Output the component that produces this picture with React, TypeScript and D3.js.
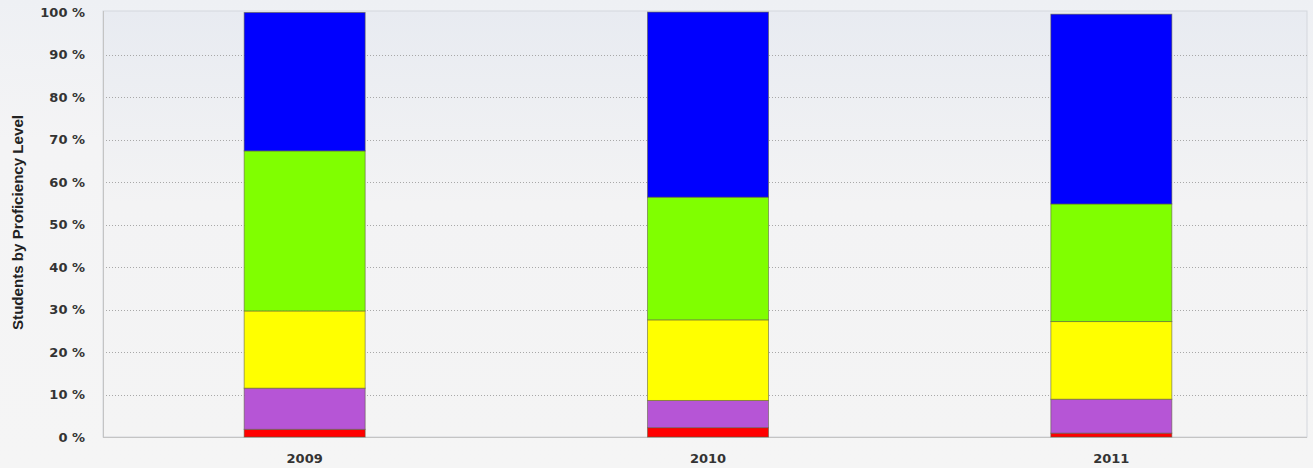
import React from "react";
import * as d3 from "d3";

const years = ["2009", "2010", "2011"];
const levels = ["red", "purple", "yellow", "green", "blue"];
const redVals = [1.8, 2.2, 0.9];
const purpleVals = [9.7, 6.4, 8.0];
const yellowVals = [18.2, 19.0, 18.3];
const greenVals = [37.7, 28.9, 27.7];
const blueVals = [32.6, 43.6, 44.7];
const yTicks = [0, 10, 20, 30, 40, 50, 60, 70, 80, 90, 100];
const colors = ["#ff0000", "#b655d6", "#ffff00", "#80ff00", "#0000ff"];

const W = 1313;
const H = 468;
const plotLeft = 103;
const plotRight = 1307;
const plotTop = 11;
const plotBottom = 437;

export default function App() {
  const rows = years.map((y, i) => ({
    year: y,
    red: redVals[i],
    purple: purpleVals[i],
    yellow: yellowVals[i],
    green: greenVals[i],
    blue: blueVals[i],
  }));
  const stack = d3.stack<any>().keys(levels)(rows);
  const x = d3
    .scaleBand()
    .domain(years)
    .range([plotLeft, W])
    .paddingInner(0.7)
    .paddingOuter(0.35);
  const y = d3.scaleLinear().domain([0, 100]).range([437, 12.5]);
  const font = "Arial, 'Liberation Sans', sans-serif";
  const tickFont = "'DejaVu Sans', Verdana, sans-serif";

  return (
    <div style={{ position: "fixed", left: 0, top: 0 }}>
      <svg width={W} height={H} style={{ display: "block" }}>
        <defs>
          <linearGradient id="bg" x1="0" y1="0" x2="0" y2="1">
            <stop offset="0" stopColor="#e8ebf1" />
            <stop offset="0.45" stopColor="#f3f3f4" />
            <stop offset="1" stopColor="#f4f4f4" />
          </linearGradient>
          <linearGradient id="outer" x1="0" y1="0" x2="0" y2="1">
            <stop offset="0" stopColor="#eef0f4" />
            <stop offset="0.3" stopColor="#f4f4f5" />
            <stop offset="1" stopColor="#f5f5f5" />
          </linearGradient>
        </defs>
        <rect x={0} y={0} width={W} height={H} fill="url(#outer)" />
        <rect
          x={plotLeft}
          y={plotTop}
          width={plotRight - plotLeft}
          height={plotBottom - plotTop}
          fill="url(#bg)"
          stroke="#d4d7dd"
          strokeWidth={1}
        />
        {yTicks.map((t) => (
          <g key={t}>
            {t > 0 && t < 100 && (
              <line
                x1={plotLeft}
                x2={plotRight}
                y1={Math.round(y(t)) + 0.5}
                y2={Math.round(y(t)) + 0.5}
                stroke="#a8a8a8"
                strokeDasharray="1,2"
              />
            )}
            <text
              x={85}
              y={y(t)}
              textAnchor="end"
              dominantBaseline="central"
              fontFamily={tickFont}
              fontWeight="bold"
              fontSize={13}
              fill="#333"
            >
              {t} %
            </text>
          </g>
        ))}
        <line x1={plotLeft + 0.5} x2={plotLeft + 0.5} y1={plotTop} y2={plotBottom} stroke="#c4c4c4" />
        <line x1={plotLeft} x2={plotRight} y1={437.5} y2={437.5} stroke="#c4c4c4" />
        {stack.map((s, si) => (
          <g key={s.key}>
            {s.map((d, i) => (
              <rect
                key={i}
                x={x(years[i])!}
                width={x.bandwidth()}
                y={y(d[1])}
                height={y(d[0]) - y(d[1])}
                fill={colors[si]}
                stroke="rgba(90,90,60,0.55)"
                strokeWidth={1}
              />
            ))}
          </g>
        ))}
        {years.map((yr) => (
          <text
            key={yr}
            x={x(yr)! + x.bandwidth() / 2}
            y={463}
            textAnchor="middle"
            fontFamily={tickFont}
            fontWeight="bold"
            fontSize={13}
            fill="#333"
          >
            {yr}
          </text>
        ))}
        <text
          transform={`translate(23,${(115 + 330) / 2}) rotate(-90)`}
          textAnchor="middle"
          fontFamily={font}
          fontWeight="bold"
          fontSize={15}
          fill="#222"
          textLength={215}
          lengthAdjust="spacingAndGlyphs"
        >
          Students by Proficiency Level
        </text>
      </svg>
    </div>
  );
}
